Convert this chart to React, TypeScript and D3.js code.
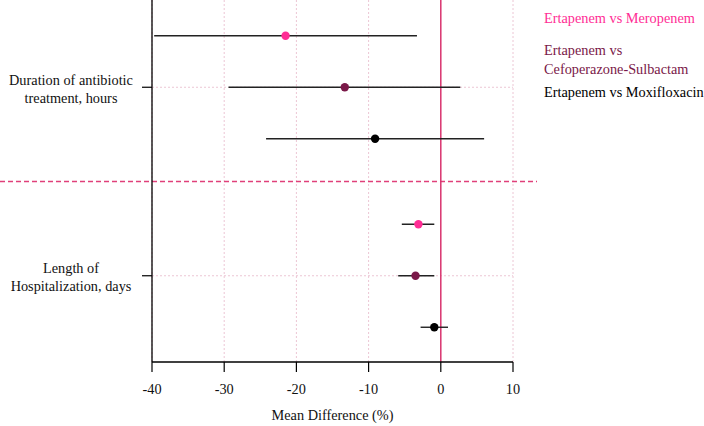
import React from 'react';
import * as d3 from 'd3';

// outcomes shown on the y axis, each split into three comparisons
const outcomes = ['Duration of antibiotic treatment, hours', 'Length of Hospitalization, days'];
const outcomeLines = [
  ['Duration of antibiotic', 'treatment, hours'],
  ['Length of', 'Hospitalization, days'],
];
const comparisons = ['Ertapenem vs Meropenem', 'Ertapenem vs Cefoperazone-Sulbactam', 'Ertapenem vs Moxifloxacin'];
const legendLines = [['Ertapenem vs Meropenem'], ['Ertapenem vs', 'Cefoperazone-Sulbactam'], ['Ertapenem vs Moxifloxacin']];
const colors = ['#ff2d95', '#7a1848', '#000000'];

// mean difference with lower / upper bounds, per outcome, per comparison
const means = [
  [-21.5, -13.3, -9.1],
  [-3.1, -3.5, -0.9],
];
const lower = [
  [-39.7, -29.4, -24.2],
  [-5.4, -5.9, -2.8],
];
const upper = [
  [-3.3, 2.7, 6.0],
  [-0.9, -0.9, 1.0],
];
const xTicks = [-40, -30, -20, -10, 0, 10];

export default function App() {
  const width = 704;
  const height = 426;
  const left = 152;
  const right = 513;
  const top = 0;
  const bottom = 362;
  const fs = 14.3;
  const font = "'Liberation Serif', 'Times New Roman', serif";

  const x = d3.scaleLinear().domain([-40, 10]).range([left, right]);
  const y = d3.scaleBand().domain(outcomes).range([top - 7, bottom + 8]);
  const sub = d3.scalePoint().domain(comparisons).range([-51.5, 51.5]);
  const cy = (o: string) => (y(o) as number) + y.bandwidth() / 2;

  const rows = outcomes.flatMap((o, i) =>
    comparisons.map((c, j) => ({
      o,
      c,
      j,
      mean: means[i][j],
      lo: lower[i][j],
      hi: upper[i][j],
      yy: cy(o) + (sub(c) as number),
    }))
  );

  const sepY = (cy(outcomes[0]) + cy(outcomes[1])) / 2;

  return (
    <svg width={width} height={height} style={{ position: 'absolute', left: 0, top: 0, fontFamily: font }}>
      <rect width={width} height={height} fill="#fff" />
      {/* grid */}
      {xTicks.filter(t => t !== 0).map(t => (
        <line key={t} x1={x(t)} x2={x(t)} y1={top} y2={bottom} stroke="#ecc6d4" strokeDasharray="2,2" strokeWidth={1} />
      ))}
      {outcomes.map(o => (
        <line key={o} x1={left} x2={right} y1={cy(o)} y2={cy(o)} stroke="#ecc6d4" strokeDasharray="2,2" strokeWidth={1} />
      ))}
      {/* separator between outcomes */}
      <line x1={0} x2={537} y1={sepY} y2={sepY} stroke="#e0407a" strokeDasharray="5,3" strokeWidth={1.3} />
      {/* line of no difference */}
      <line x1={x(0)} x2={x(0)} y1={top} y2={bottom} stroke="#d9336e" strokeWidth={1.5} />
      {/* intervals */}
      {rows.map((r, k) => (
        <g key={k}>
          <line x1={x(r.lo)} x2={x(r.hi)} y1={r.yy} y2={r.yy} stroke="#222" strokeWidth={1.4} />
          <circle cx={x(r.mean)} cy={r.yy} r={4.2} fill={colors[r.j]} />
        </g>
      ))}
      {/* axes */}
      <line x1={left} x2={left} y1={top} y2={bottom} stroke="#000" strokeWidth={1.3} />
      <line x1={left} x2={right} y1={bottom} y2={bottom} stroke="#000" strokeWidth={1.3} />
      {xTicks.map(t => (
        <g key={t}>
          <line x1={x(t)} x2={x(t)} y1={bottom} y2={bottom + 10} stroke="#000" strokeWidth={1.2} />
          <text x={x(t)} y={394} textAnchor="middle" fontSize={fs} fill="#111">{t}</text>
        </g>
      ))}
      {outcomes.map((o, i) => (
        <g key={o}>
          <line x1={left - 10} x2={left} y1={cy(o)} y2={cy(o)} stroke="#000" strokeWidth={1.2} />
          {outcomeLines[i].map((s, k) => (
            <text key={k} x={71} y={cy(o) - 2.5 + k * 18} textAnchor="middle" fontSize={fs} fill="#111">{s}</text>
          ))}
        </g>
      ))}
      <text x={332.5} y={420} textAnchor="middle" fontSize={fs} fill="#111">Mean Difference (%)</text>
      {/* legend */}
      {legendLines.map((ls, i) =>
        ls.map((s, k) => (
          <text key={`${i}-${k}`} x={544} y={[22.5, 55, 97][i] + k * 19} fontSize={fs} fill={colors[i]}>{s}</text>
        ))
      )}
    </svg>
  );
}
